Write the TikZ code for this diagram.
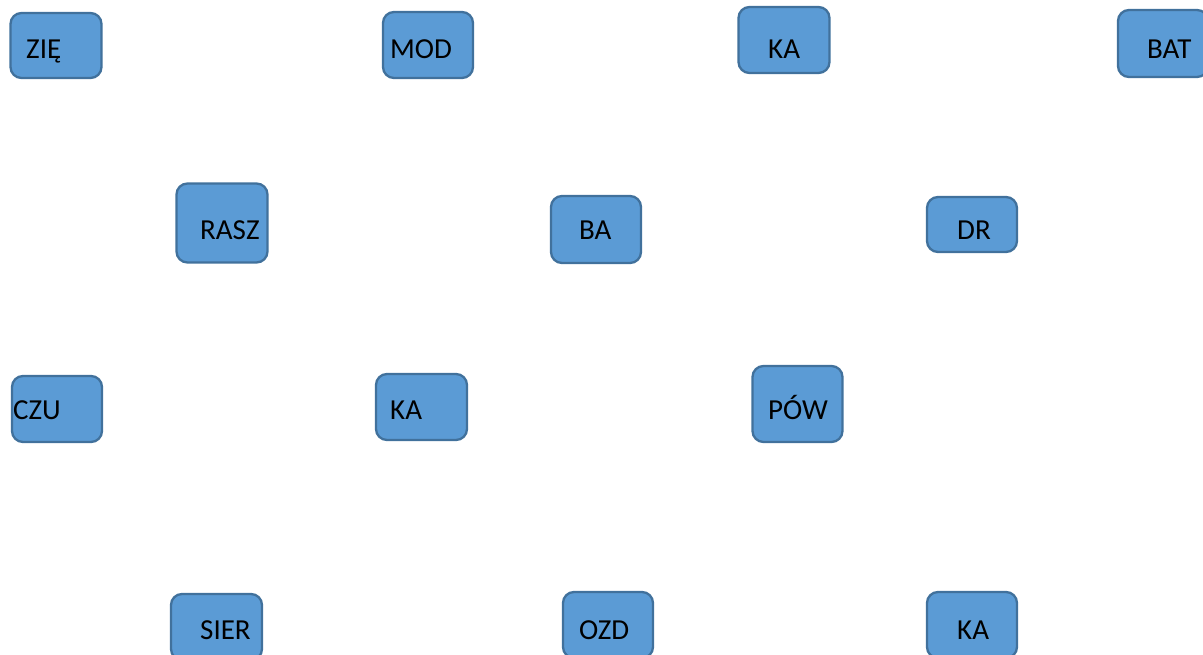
\documentclass[tikz,border=0pt]{standalone}
\usepackage{fontspec}
\setmainfont{Carlito}
\definecolor{boxfill}{HTML}{5B9BD5}
\definecolor{boxline}{HTML}{41719C}
\tikzset{
  box/.style={draw=boxline, fill=boxfill, line width=2.3pt, rounded corners=11pt, inner sep=0pt},
  lbl/.style={anchor=base west, inner sep=0pt, font=\fontsize{29}{31}\selectfont, text=black}
}
\begin{document}
\begin{tikzpicture}[x=1pt,y=-1pt]
\useasboundingbox (0,0) rectangle (1203,655);
\begin{scope}
\clip (0,0) rectangle (1203,655);
% row 1
\node[box, minimum width=91pt, minimum height=65pt] (b1) at (56,45.5) {};
\node[lbl] (t1) at (26,58.5) {ZIĘ};
\node[box, minimum width=90pt, minimum height=66pt] (b2) at (428,45) {};
\node[lbl] (t2) at (390,58.5) {MOD};
\node[box, minimum width=91pt, minimum height=66pt] (b3) at (784,40) {};
\node[lbl] (t3) at (768,58.5) {KA};
\node[box, minimum width=90pt, minimum height=67pt] (b4) at (1163,43.5) {};
\node[lbl] (t4) at (1147,58.5) {BAT};
% row 2
\node[box, minimum width=91pt, minimum height=79pt] (b5) at (222,223) {};
\node[lbl] (t5) at (200,239.5) {RASZ};
\node[box, minimum width=90pt, minimum height=67pt] (b6) at (596,229.5) {};
\node[lbl] (t6) at (579,239.5) {BA};
\node[box, minimum width=90pt, minimum height=55pt] (b7) at (972,224.5) {};
\node[lbl] (t7) at (957,239.5) {DR};
% row 3
\node[box, minimum width=90pt, minimum height=66pt] (b8) at (57,409) {};
\node[lbl] (t8) at (13,419.5) {CZU};
\node[box, minimum width=91pt, minimum height=66pt] (b9) at (421.5,407) {};
\node[lbl] (t9) at (390,419.5) {KA};
\node[box, minimum width=90pt, minimum height=76pt] (b10) at (797.5,404) {};
\node[lbl] (t10) at (768,419.5) {PÓW};
% row 4
\node[box, minimum width=91pt, minimum height=66pt] (b11) at (216.5,627) {};
\node[lbl] (t11) at (200,639.5) {SIER};
\node[box, minimum width=90pt, minimum height=66pt] (b12) at (608,625) {};
\node[lbl] (t12) at (579,639.5) {OZD};
\node[box, minimum width=90pt, minimum height=66pt] (b13) at (972,625) {};
\node[lbl] (t13) at (957,639.5) {KA};
\end{scope}
\end{tikzpicture}
\end{document}
